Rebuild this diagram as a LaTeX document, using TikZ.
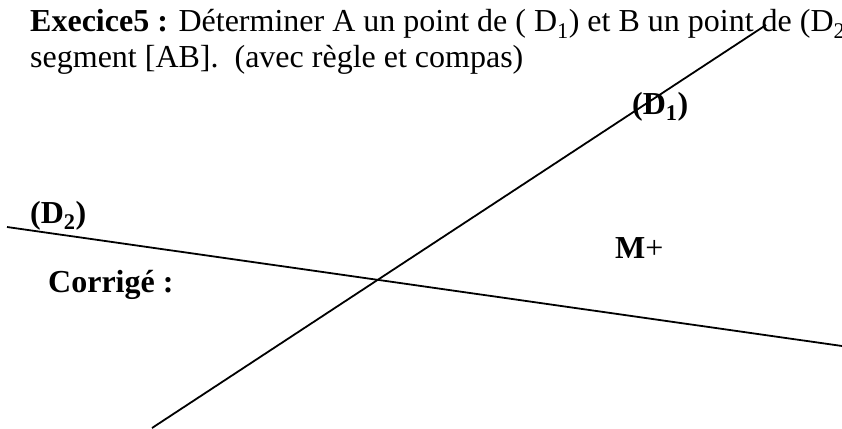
\documentclass[tikz,border=0pt]{standalone}
\usepackage{fontspec}
\setmainfont{Liberation Serif}
\begin{document}
\begin{tikzpicture}[x=1pt,y=-1pt,
  txt/.style={anchor=base west,inner sep=0pt,font=\fontsize{32}{36}\selectfont},
  btxt/.style={txt,font=\fontsize{32}{36}\selectfont\bfseries},
  droite/.style={line width=1.8pt,black}]
\useasboundingbox (0,0) rectangle (842,428);
\clip (0,0) rectangle (842,428);
\node[txt] (l1) at (30,32) {\textbf{Execice5 :} Déterminer A un point de ( D\textsubscript{1}) et B un point de (D\textsubscript{2}};
\node[txt] (l2) at (30,67) {segment [AB].\ \ (avec règle et compas)};
\node[btxt] (d1) at (632,114) {(D\textsubscript{1})};
\node[btxt] (d2) at (30,223) {(D\textsubscript{2})};
\node[btxt] (corr) at (48,292) {Corrigé :};
\node[txt] (m) at (615,258) {\textbf{M}+};
\coordinate (a1) at (152,428);
\coordinate (a2) at (766,25);
\coordinate (b1) at (7,227);
\coordinate (b2) at (842,346);
\draw[droite] (a1) -- (a2);
\draw[droite] (b1) -- (b2);
\end{tikzpicture}
\end{document}
